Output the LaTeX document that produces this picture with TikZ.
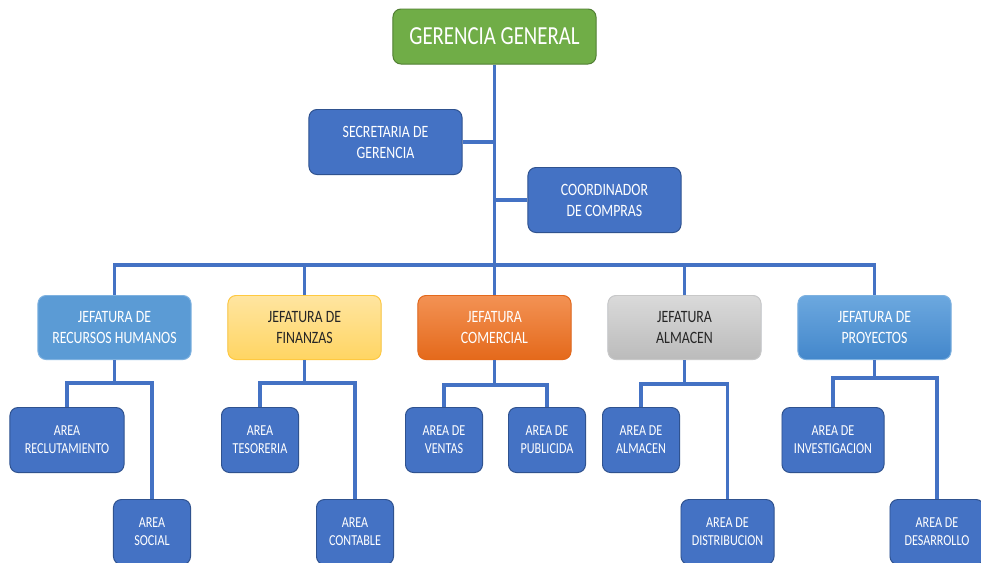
\documentclass[tikz,border=0pt]{standalone}
\usepackage{fontspec}
\usepackage{tikz}
\newfontfamily\orgfont{Carlito}[FakeStretch=0.8]
\definecolor{boxblue}{HTML}{4472C4}
\definecolor{boxline}{HTML}{2F528F}
\definecolor{ggreen}{HTML}{70AD47}
\definecolor{ggline}{HTML}{507E32}
\definecolor{rrhh}{HTML}{5B9BD5}
\definecolor{rrhhline}{HTML}{7FB2E0}
\definecolor{finA}{HTML}{FFE5A0}
\definecolor{finB}{HTML}{FFD563}
\definecolor{finline}{HTML}{FFC940}
\definecolor{comA}{HTML}{F39254}
\definecolor{comB}{HTML}{E4691B}
\definecolor{almA}{HTML}{DADADA}
\definecolor{almB}{HTML}{BBBBBB}
\definecolor{almline}{HTML}{C8C8C8}
\definecolor{proA}{HTML}{6CA8DF}
\definecolor{proB}{HTML}{4387CB}
\colorlet{darktext}{black!85}
\tikzset{
  box/.style={rectangle,rounded corners=0.2cm,draw=boxline,line width=0.7pt,fill=boxblue,
    text=white,align=center,inner sep=0pt},
  head/.style={box,minimum width=3.825cm,minimum height=1.6cm,
    font=\orgfont\fontsize{12.3}{14.9}\selectfont},
  area/.style={box,minimum width=#1,minimum height=1.625cm,
    font=\orgfont\fontsize{10.8}{13}\selectfont},
  link/.style={draw=boxblue,line width=2.5pt}
}

\begin{document}
\begin{tikzpicture}[x=0.025cm,y=-0.025cm]
\fill[white] (0,0) rectangle (981,562);
\useasboundingbox (0,0) rectangle (981,562);
% top
\node[box,fill=ggreen,draw=ggline,minimum width=5.075cm,minimum height=1.375cm,
  font=\orgfont\fontsize{18.5}{22}\selectfont] (gg) at (494.5,36.5) {GERENCIA GENERAL};
\node[head,minimum height=1.625cm] (sec) at (385.5,142) {SECRETARIA DE\\GERENCIA};
\node[head,minimum height=1.625cm] (coo) at (604.5,200) {COORDINADOR\\DE COMPRAS};
% jefaturas
\node[head,fill=rrhh,draw=rrhhline] (jrh) at (114.5,327.5) {JEFATURA DE\\RECURSOS HUMANOS};
\node[head,top color=finA,bottom color=finB,draw=finline,text=darktext] (jfi) at (304.5,327.5) {JEFATURA DE\\FINANZAS};
\node[head,top color=comA,bottom color=comB,draw=comB] (jco) at (494.5,327.5) {JEFATURA\\COMERCIAL};
\node[head,top color=almA,bottom color=almB,draw=almline,text=darktext] (jal) at (684.5,327.5) {JEFATURA\\ALMACEN};
\node[head,top color=proA,bottom color=proB,draw=rrhhline] (jpr) at (874.5,327.5) {JEFATURA DE\\PROYECTOS};
% areas
\node[area=2.85cm] (ar1) at (67,440) {AREA\\RECLUTAMIENTO};
\node[area=1.925cm] (ar2) at (152,532) {AREA\\SOCIAL};
\node[area=1.925cm] (af1) at (260,440) {AREA\\TESORERIA};
\node[area=1.925cm] (af2) at (355,532) {AREA\\CONTABLE};
\node[area=1.925cm] (ac1) at (444,440) {AREA DE\\VENTAS};
\node[area=1.925cm] (ac2) at (547,440) {AREA DE\\PUBLICIDA};
\node[area=1.925cm] (aa1) at (641,440) {AREA DE\\ALMACEN};
\node[area=2.325cm] (aa2) at (727.5,532) {AREA DE\\DISTRIBUCION};
\node[area=2.55cm] (ap1) at (833,440) {AREA DE\\INVESTIGACION};
\node[area=2.35cm] (ap2) at (937,532) {AREA DE\\DESARROLLO};
% links
\coordinate (hub) at (gg.south |- 0,265);
\draw[link] (gg.south) -- (hub);
\draw[link] (sec.east) -- (sec.east -| gg.south);
\draw[link] (coo.west) -- (coo.west -| gg.south);
\foreach \j in {jrh,jfi,jco,jal,jpr}
  \draw[link] (\j.north) |- (hub);
\coordinate (krh) at (jrh.south |- 0,383);
\coordinate (kfi) at (jfi.south |- 0,383);
\coordinate (kco) at (jco.south |- 0,385);
\coordinate (kal) at (jal.south |- 0,384);
\coordinate (kpr) at (jpr.south |- 0,378);
\draw[link] (jrh.south) -- (krh); \draw[link] (ar1.north) |- (krh); \draw[link] (ar2.north) |- (krh);
\draw[link] (jfi.south) -- (kfi); \draw[link] (af1.north) |- (kfi); \draw[link] (af2.north) |- (kfi);
\draw[link] (jco.south) -- (kco); \draw[link] (ac1.north) |- (kco); \draw[link] (ac2.north) |- (kco);
\draw[link] (jal.south) -- (kal); \draw[link] (aa1.north) |- (kal); \draw[link] (aa2.north) |- (kal);
\draw[link] (jpr.south) -- (kpr); \draw[link] (ap1.north) |- (kpr); \draw[link] (ap2.north) |- (kpr);
\end{tikzpicture}
\end{document}
